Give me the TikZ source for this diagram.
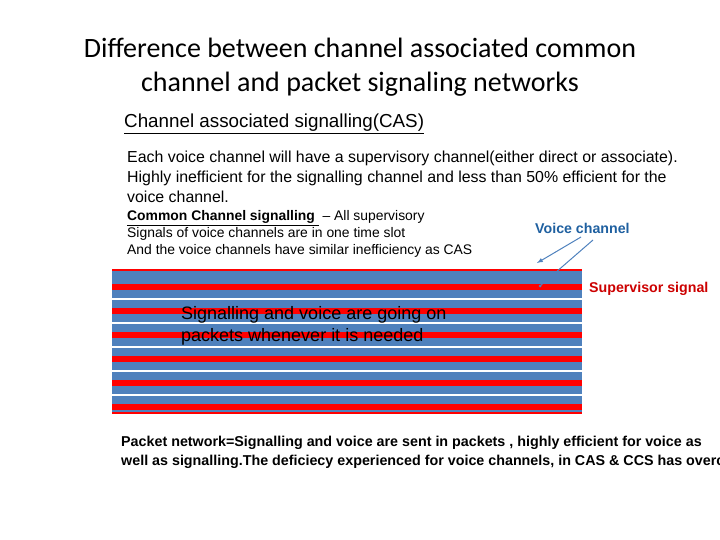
\documentclass[tikz,border=0pt]{standalone}
\usepackage{fontspec}
\setmainfont{Liberation Sans}
\newfontfamily\titlefont{Carlito}
\begin{document}
\begin{tikzpicture}[x=1pt,y=-1pt,
  body/.style={anchor=west,inner sep=0pt,font=\fontsize{15.9}{20}\selectfont,align=left},
  lbl/.style={inner sep=0pt,font=\bfseries\fontsize{14.2}{16}\selectfont}]
\useasboundingbox (0,0) rectangle (720,540);
\node[font=\titlefont\fontsize{28}{34}\selectfont,align=center] (title) at (360,67) {Difference between channel associated common\\channel and packet signaling networks};
\node[anchor=west,inner sep=0pt,font=\fontsize{18.8}{20}\selectfont] (cas) at (124,124) {\underline{Channel associated signalling(CAS)}};
\node[body] (t1) at (127,177) {Each voice channel will have a supervisory channel(either direct or associate).\\Highly inefficient for the signalling channel and less than 50\% efficient for the\\voice channel.};
\node[body,font=\fontsize{13.9}{17}\selectfont] (t2) at (127,234) {\textbf{\underline{Common Channel signalling }} -- All supervisory\\Signals of voice channels are in one time slot\\And the voice channels have similar inefficiency as CAS};
% striped box
\fill[red] (112,269) rectangle (582,414);
\fill[fill={rgb,255:red,79;green,129;blue,189}] (112,271) rectangle (582,412);
\foreach \y in {287,311,335,359,383,407} \fill[red] (112,\y-3) rectangle (582,\y+3);
\foreach \y in {299,323,347,371,395} \fill[white] (112,\y-1) rectangle (582,\y+1);
\node[anchor=west,inner sep=0pt,font=\fontsize{18}{22}\selectfont,align=left] (sv) at (181,326) {Signalling and voice are going on\\packets whenever it is needed};
\node[lbl,text={rgb,255:red,31;green,96;blue,160},anchor=west] (vc) at (535,228) {Voice channel};
\node[lbl,text={rgb,255:red,204;green,0;blue,0},anchor=west] (ss) at (589,289) {Supervisor signal};
\coordinate (e1) at (537,263);
\coordinate (e2) at (540,286);
\draw[color={rgb,255:red,79;green,129;blue,189},line width=1pt,-latex] (581,237) -- (e1);
\draw[color={rgb,255:red,79;green,129;blue,189},line width=1pt] (593,240) -- (e2);
\fill[color={rgb,255:red,79;green,129;blue,189}] (e2) circle (1.5);
\node[anchor=west,inner sep=0pt,align=left,font=\bfseries\fontsize{14.3}{19}\selectfont] (pn) at (121,452) {Packet network=Signalling and voice are sent in packets , highly efficient for voice as\\well as signalling.The deficiecy experienced for voice channels, in CAS \& CCS has overco};
\end{tikzpicture}
\end{document}
